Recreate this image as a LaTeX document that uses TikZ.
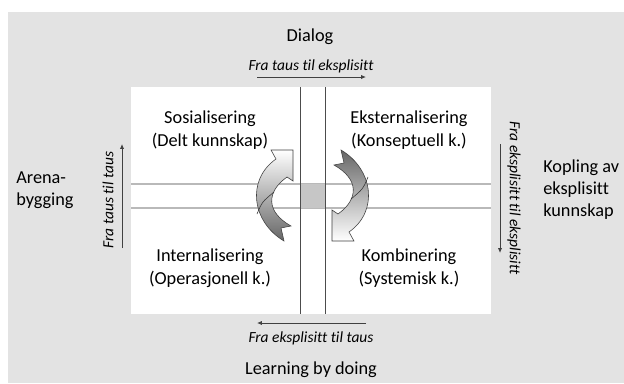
\documentclass[tikz,border=0pt]{standalone}
\usepackage{fontspec}
\setmainfont{Carlito}[Ligatures=NoCommon]
\usetikzlibrary{
  arrows.meta,
  positioning
}

\tikzset{
  lbl/.style={align=center,font=\fontsize{13}{16.2}\selectfont,inner sep=0pt},
  side/.style={align=left,anchor=west,font=\fontsize{13}{15.6}\selectfont,inner sep=0pt},
  dir/.style={font=\fontsize{11}{13}\selectfont\itshape,inner sep=0pt},
  flow/.style={draw=black!75,line width=0.6pt,-{Latex[length=3.5pt,width=3pt]}},
  pil/.style={draw=gray!50!black,line width=0.4pt,line join=miter},
  twist/.style={draw=gray!40!black,line width=0.4pt}
}

\begin{document}
\begin{tikzpicture}[x=0.025cm,y=-0.025cm,>=Latex]
  \useasboundingbox (0,0) rectangle (624,383);
  \fill[gray!22] (8,12) rectangle (624,383);
  \fill[white] (131,87) rectangle (491,314);
  % cross in the middle
  \draw[gray!55,line width=1pt] (131,184) -- (491,184) (131,208) -- (491,208);
  \fill[gray!45] (300,184) rectangle (325,208);
  \draw[black!70,line width=0.5pt] (300,87) -- (300,314) (325,87) -- (325,314);
  % quadrants
  \foreach \x/\y/\nm/\lab in {210/130.5/sos/{Sosialisering\\(Delt kunnskap)},
                             409/130.5/eks/{Eksternalisering\\(Konseptuell k.)},
                             210/268/int/{Internalisering\\(Operasjonell k.)},
                             409/268/kom/{Kombinering\\(Systemisk k.)}}{
    \node[lbl] (\nm) at (\x,\y) {\lab};
  }
  % turning arrows
  \path[pil,top color=white,bottom color=black!60]
    (293,150) -- (293,181) -- (287,177)
    .. controls (266,192) and (266,212) .. (291,226)
    -- (281,228) -- (284,241)
    .. controls (252,222) and (246,180) .. (276,159)
    -- (271,150) -- cycle;
  \draw[twist] (257,214) .. controls (262,202) .. (274,192);
  \begin{scope}[rotate around={180:(312.5,195.5)}]
    \path[pil,top color=black!60,bottom color=white]
      (293,150) -- (293,181) -- (287,177)
      .. controls (266,192) and (266,212) .. (291,226)
      -- (281,228) -- (284,241)
      .. controls (252,222) and (246,180) .. (276,159)
      -- (271,150) -- cycle;
    \draw[twist] (257,214) .. controls (262,202) .. (274,192);
  \end{scope}
  % top and bottom
  \node[lbl] (dialog) at (310,37) {Dialog};
  \node[dir] (tilEks) at (311,66) {Fra taus til eksplisitt};
  \coordinate (t1) at (257,77);
  \coordinate (t2) at (366,77);
  \draw[flow] (t1) -- (t2);
  \coordinate (b1) at (366,323);
  \coordinate (b2) at (257,323);
  \draw[flow] (b1) -- (b2);
  \node[dir] (tilTaus) at (311,338) {Fra eksplisitt til taus};
  \node[lbl] (lbd) at (311,370) {Learning by doing};
  % left and right
  \node[side] (arena) at (16,190) {Arena-\\bygging};
  \node[dir,rotate=90] (tausTaus) at (108,200) {Fra taus til taus};
  \coordinate (l1) at (122,248);
  \coordinate (l2) at (122,144);
  \draw[flow] (l1) -- (l2);
  \node[side] (kopling) at (543,190) {Kopling av\\eksplisitt\\kunnskap};
  \node[dir,rotate=-90] (eksEks) at (514,198) {Fra eksplisitt til eksplisitt};
  \coordinate (r1) at (500,144);
  \coordinate (r2) at (500,253);
  \draw[flow] (r1) -- (r2);
\end{tikzpicture}
\end{document}
